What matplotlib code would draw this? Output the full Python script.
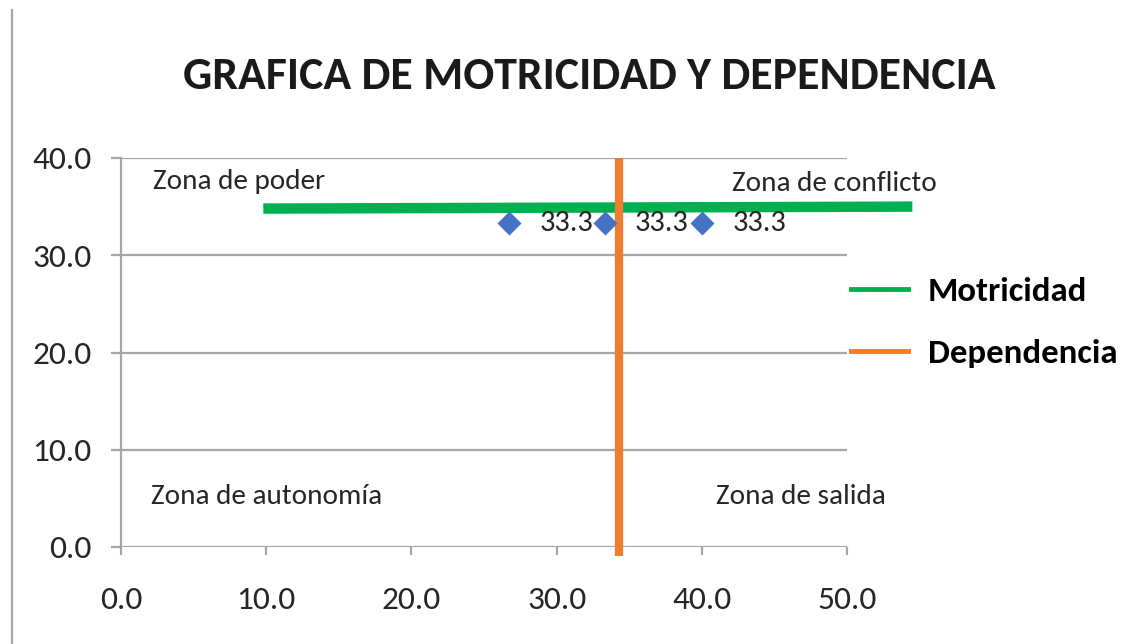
import matplotlib
matplotlib.use("Agg")
import matplotlib.pyplot as plt
from matplotlib.lines import Line2D

# Datos
puntos_x = [26.7, 33.3, 40.0]
puntos_y = [33.3, 33.3, 33.3]
etiquetas = ["33.3", "33.3", "33.3"]

motricidad_x = [9.8, 54.5]
motricidad_y = [34.8, 35.0]

dependencia_x = [34.3, 34.3]
dependencia_y = [-0.9, 40.0]

x_ticks = [0, 10, 20, 30, 40, 50]
y_ticks = [0, 10, 20, 30, 40]

zonas = ["Zona de poder", "Zona de conflicto", "Zona de autonomía", "Zona de salida"]
zonas_x = [2.2, 42.1, 2.1, 41.0]
zonas_y = [37.6, 37.4, 5.2, 5.2]

VERDE = "#00B050"
NARANJA = "#ED7D31"
AZUL = "#4472C4"
GRIS = "#A6A6A6"

plt.rcParams["font.family"] = ["Carlito", "DejaVu Sans"]

fig = plt.figure(figsize=(11.48, 6.44), dpi=100)
ax = fig.add_axes([121 / 1148, 1 - 547 / 644, 726 / 1148, 389 / 644])

ax.set_xlim(0, 50)
ax.set_ylim(0, 40)

# rejilla horizontal
for v in y_ticks:
    ax.axhline(v, color=GRIS, lw=1.6, zorder=1)

ax.plot(motricidad_x, motricidad_y, color=VERDE, lw=7.5, clip_on=False,
        solid_capstyle="butt", zorder=3)
ax.plot(dependencia_x, dependencia_y, color=NARANJA, lw=6, clip_on=False,
        solid_capstyle="butt", zorder=3)
ax.scatter(puntos_x, puntos_y, marker="D", s=150, color=AZUL, zorder=4,
           linewidths=0)

for x, y, t in zip(puntos_x, puntos_y, etiquetas):
    ax.annotate(t, (x, y), xytext=(22, 0), textcoords="offset points",
                va="center", ha="left", fontsize=22, color="#262626", zorder=5)

for t, x, y in zip(zonas, zonas_x, zonas_y):
    ax.text(x, y, t, fontsize=21, color="#262626", va="center", ha="left")

for s in ["top", "right", "bottom"]:
    ax.spines[s].set_visible(False)
ax.spines["left"].set_color(GRIS)
ax.spines["left"].set_linewidth(1.6)

ax.set_xticks(x_ticks)
ax.set_xticklabels([f"{v:.1f}" for v in x_ticks])
ax.set_yticks(y_ticks)
ax.set_yticklabels([f"{v:.1f}" for v in y_ticks])
ax.tick_params(axis="x", length=6, width=1.6, color=GRIS, labelsize=24,
               labelcolor="#262626", pad=22)
ax.tick_params(axis="y", length=7, width=1.6, color=GRIS, labelsize=24,
               labelcolor="#262626", pad=14)

fig.text(589 / 1148, 1 - 76 / 644, "GRAFICA DE MOTRICIDAD Y DEPENDENCIA",
         ha="center", va="center", fontsize=33, fontweight="bold", color="#1a1a1a")

handles = [Line2D([], [], color=VERDE, lw=3.5), Line2D([], [], color=NARANJA, lw=3.5)]
fig.legend(handles, ["Motricidad", "Dependencia"], loc="upper left",
           bbox_to_anchor=(851 / 1148, 1 - 277 / 644), frameon=False,
           borderpad=0, borderaxespad=0,
           handlelength=1.64, handletextpad=0.58, labelspacing=0.93,
           prop={"family": ["Carlito", "DejaVu Sans"], "weight": "bold", "size": 25})

# borde gris a la izquierda
fig.add_artist(Line2D([12 / 1148, 12 / 1148], [0, 1 - 10 / 644], color=GRIS, lw=1.6))

fig.savefig("out.png", dpi=100)
